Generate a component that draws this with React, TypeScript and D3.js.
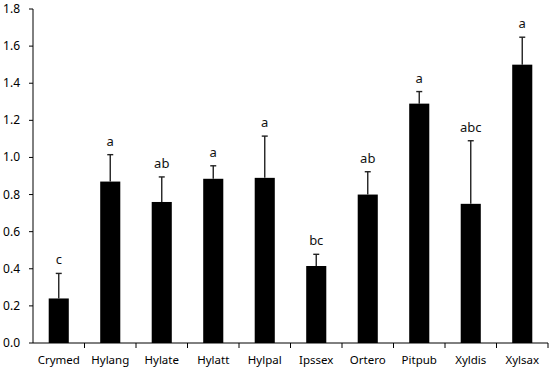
import * as d3 from 'd3';

const species = ['Crymed', 'Hylang', 'Hylate', 'Hylatt', 'Hylpal', 'Ipssex', 'Ortero', 'Pitpub', 'Xyldis', 'Xylsax'];
const means = [0.24, 0.87, 0.76, 0.885, 0.89, 0.415, 0.80, 1.29, 0.75, 1.50];
const errTops = [0.375, 1.015, 0.895, 0.955, 1.115, 0.478, 0.923, 1.355, 1.09, 1.648];
const letters = ['c', 'a', 'ab', 'a', 'a', 'bc', 'ab', 'a', 'abc', 'a'];
const yTicks = [0, 0.2, 0.4, 0.6, 0.8, 1.0, 1.2, 1.4, 1.6, 1.8];

export default function App() {
  const width = 550;
  const height = 370;
  const left = 33;
  const right = 548;
  const top = 9;
  const bottom = 343;
  const font = "'Noto Sans', sans-serif";

  const x = d3.scaleBand<string>()
    .domain(species)
    .range([left, right])
    .paddingInner(0.61)
    .paddingOuter(0.305);

  const y = d3.scaleLinear().domain([0, 1.8]).range([bottom, top]);
  const step = x.step();

  return (
    <svg width={width} height={height} style={{ position: 'absolute', left: 0, top: 0, background: '#fff' }}>
      {/* bars */}
      {species.map((s, i) => (
        <rect key={s} x={x(s)} y={y(means[i])} width={x.bandwidth()} height={bottom - y(means[i])} fill="#000" />
      ))}

      {/* error bars, upper only */}
      {species.map((s, i) => {
        const cx = (x(s) ?? 0) + x.bandwidth() / 2;
        return (
          <g key={s + '-err'} stroke="#222" strokeWidth={1.4}>
            <line x1={cx} x2={cx} y1={y(means[i])} y2={y(errTops[i])} />
            <line x1={cx - 3} x2={cx + 3} y1={y(errTops[i])} y2={y(errTops[i])} />
          </g>
        );
      })}

      {/* significance letters */}
      {species.map((s, i) => (
        <text
          key={s + '-lbl'}
          x={(x(s) ?? 0) + x.bandwidth() / 2}
          y={y(errTops[i]) - 9}
          textAnchor="middle"
          fontFamily={font}
          fontSize={13}
          fill="#111"
        >
          {letters[i]}
        </text>
      ))}

      {/* y axis */}
      <line x1={left} x2={left} y1={top} y2={bottom} stroke="#000" strokeWidth={1} />
      {yTicks.map((t) => (
        <g key={t}>
          <line x1={left - 4} x2={left} y1={y(t)} y2={y(t)} stroke="#000" />
          <text x={left - 13} y={y(t) + 4} textAnchor="end" fontFamily={font} fontSize={12} fill="#000">
            {t.toFixed(1)}
          </text>
        </g>
      ))}

      {/* x axis */}
      <line x1={left} x2={right} y1={bottom} y2={bottom} stroke="#000" strokeWidth={1} />
      {species.map((s, i) => (
        <line key={s + '-tick'} x1={left + step * (i + 1)} x2={left + step * (i + 1)} y1={bottom} y2={bottom + 5} stroke="#000" />
      ))}
      {species.map((s) => (
        <text
          key={s + '-x'}
          x={(x(s) ?? 0) + x.bandwidth() / 2}
          y={bottom + 21}
          textAnchor="middle"
          fontFamily={font}
          fontSize={11.5}
          fill="#000"
        >
          {s}
        </text>
      ))}
    </svg>
  );
}
